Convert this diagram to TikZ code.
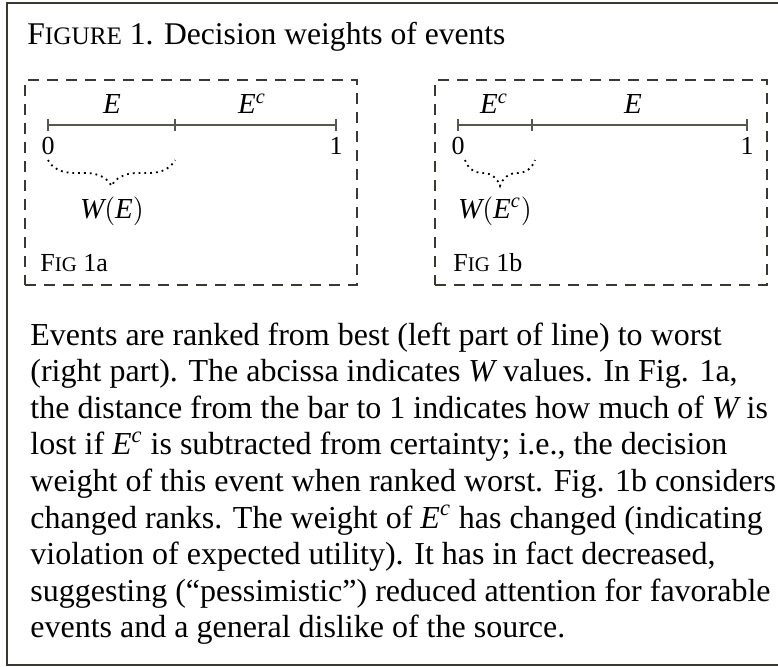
\documentclass[tikz,border=0pt]{standalone}
\usepackage{fontspec}
\setmainfont{Liberation Serif}
\newfontfamily\mathletters{Liberation Serif}[NFSSFamily=libmath]
\DeclareSymbolFont{letters}{TU}{libmath}{m}{it}
\DeclareSymbolFont{operators}{TU}{libmath}{m}{n}
\usetikzlibrary{decorations.pathreplacing, positioning}
\definecolor{framegray}{RGB}{58,56,48}
\definecolor{axisgray}{RGB}{88,86,78}
\tikzset{
    panel/.style = {draw=framegray, line width=1pt, dash pattern=on 5.5pt off 4pt, minimum width=166pt, minimum height=102.5pt, inner sep=0pt},
    axisline/.style = {draw=axisgray, line width=0.7pt},
    wbrace/.style = {draw=black, dotted, line width=0.9pt, decorate, decoration={brace, mirror, amplitude=13pt}},
    lbl/.style = {font=\fontsize{13}{15}\selectfont, inner sep=0pt},
    mlbl/.style = {font=\fontsize{14.5}{16}\selectfont, inner sep=0pt},
}
\newcommand{\fakesc}[2]{{\fontsize{#1}{#1}\selectfont #2}}

\begin{document}
\begin{tikzpicture}[x=0.5pt, y=0.5pt]
    \useasboundingbox (0,0) rectangle (778,667);
    \draw[framegray, line width=1.2pt] (7,2) rectangle (784,664);

    \node[anchor=base west, inner sep=0pt, font=\fontsize{15.8}{17}\selectfont] (title) at (27,622) {F\fakesc{12.6}{IGURE} 1. Decision weights of events};

    \node[panel] (panelA) at (191,484.5) {};
    \node[panel] (panelB) at (601,484.5) {};

    % fig 1a
    \coordinate (a0) at (48,542);
    \coordinate (am) at (175,542);
    \coordinate (a1) at (336,542);
    \draw[axisline] (a0) -- (am) -- (a1);
    \foreach \c in {a0, am, a1}
        \draw[axisline] ([yshift=3pt]\c) -- ([yshift=-3pt]\c);
    \node[mlbl, anchor=base] (eA) at (112,553) {$E$};
    \node[mlbl, anchor=base] (ecA) at (252,553) {$E^c$};
    \node[lbl] (zeroA) at (48,521) {0};
    \node[lbl] (oneA) at (336,521) {1};
    \coordinate (bA0) at (48,507);
    \coordinate (bA1) at (175,507);
    \draw[wbrace] (bA0) -- (bA1);
    \node[mlbl] (wA) at (112,456) {$W(E)$};
    \node[lbl, anchor=base west] (figA) at (40,395) {F\fakesc{10.4}{IG} 1a};

    % fig 1b
    \coordinate (b0) at (458,542);
    \coordinate (bm) at (532,542);
    \coordinate (b1) at (747,542);
    \draw[axisline] (b0) -- (bm) -- (b1);
    \foreach \c in {b0, bm, b1}
        \draw[axisline] ([yshift=3pt]\c) -- ([yshift=-3pt]\c);
    \node[mlbl, anchor=base] (ecB) at (494,553) {$E^c$};
    \node[mlbl, anchor=base] (eB) at (633,553) {$E$};
    \node[lbl] (zeroB) at (458,521) {0};
    \node[lbl] (oneB) at (747,521) {1};
    \coordinate (bB0) at (465,507);
    \coordinate (bB1) at (535,507);
    \draw[wbrace] (bB0) -- (bB1);
    \node[mlbl] (wB) at (495,456) {$W(E^c)$};
    \node[lbl, anchor=base west] (figB) at (453,395) {F\fakesc{10.4}{IG} 1b};

    \node[anchor=base west, inner sep=0pt, align=left, font=\fontsize{16}{18.3}\selectfont] (caption) at (30,29) {%
        Events are ranked from best (left part of line) to worst\\
        (right part). The abcissa indicates $W$ values. In Fig. 1a,\\
        the distance from the bar to 1 indicates how much of $W$ is\\
        lost if $E^c$ is subtracted from certainty; i.e., the decision\\
        weight of this event when ranked worst. Fig. 1b considers\\
        changed ranks. The weight of $E^c$ has changed (indicating\\
        violation of expected utility). It has in fact decreased,\\
        suggesting (``pessimistic'') reduced attention for favorable\\
        events and a general dislike of the source.};
\end{tikzpicture}
\end{document}
